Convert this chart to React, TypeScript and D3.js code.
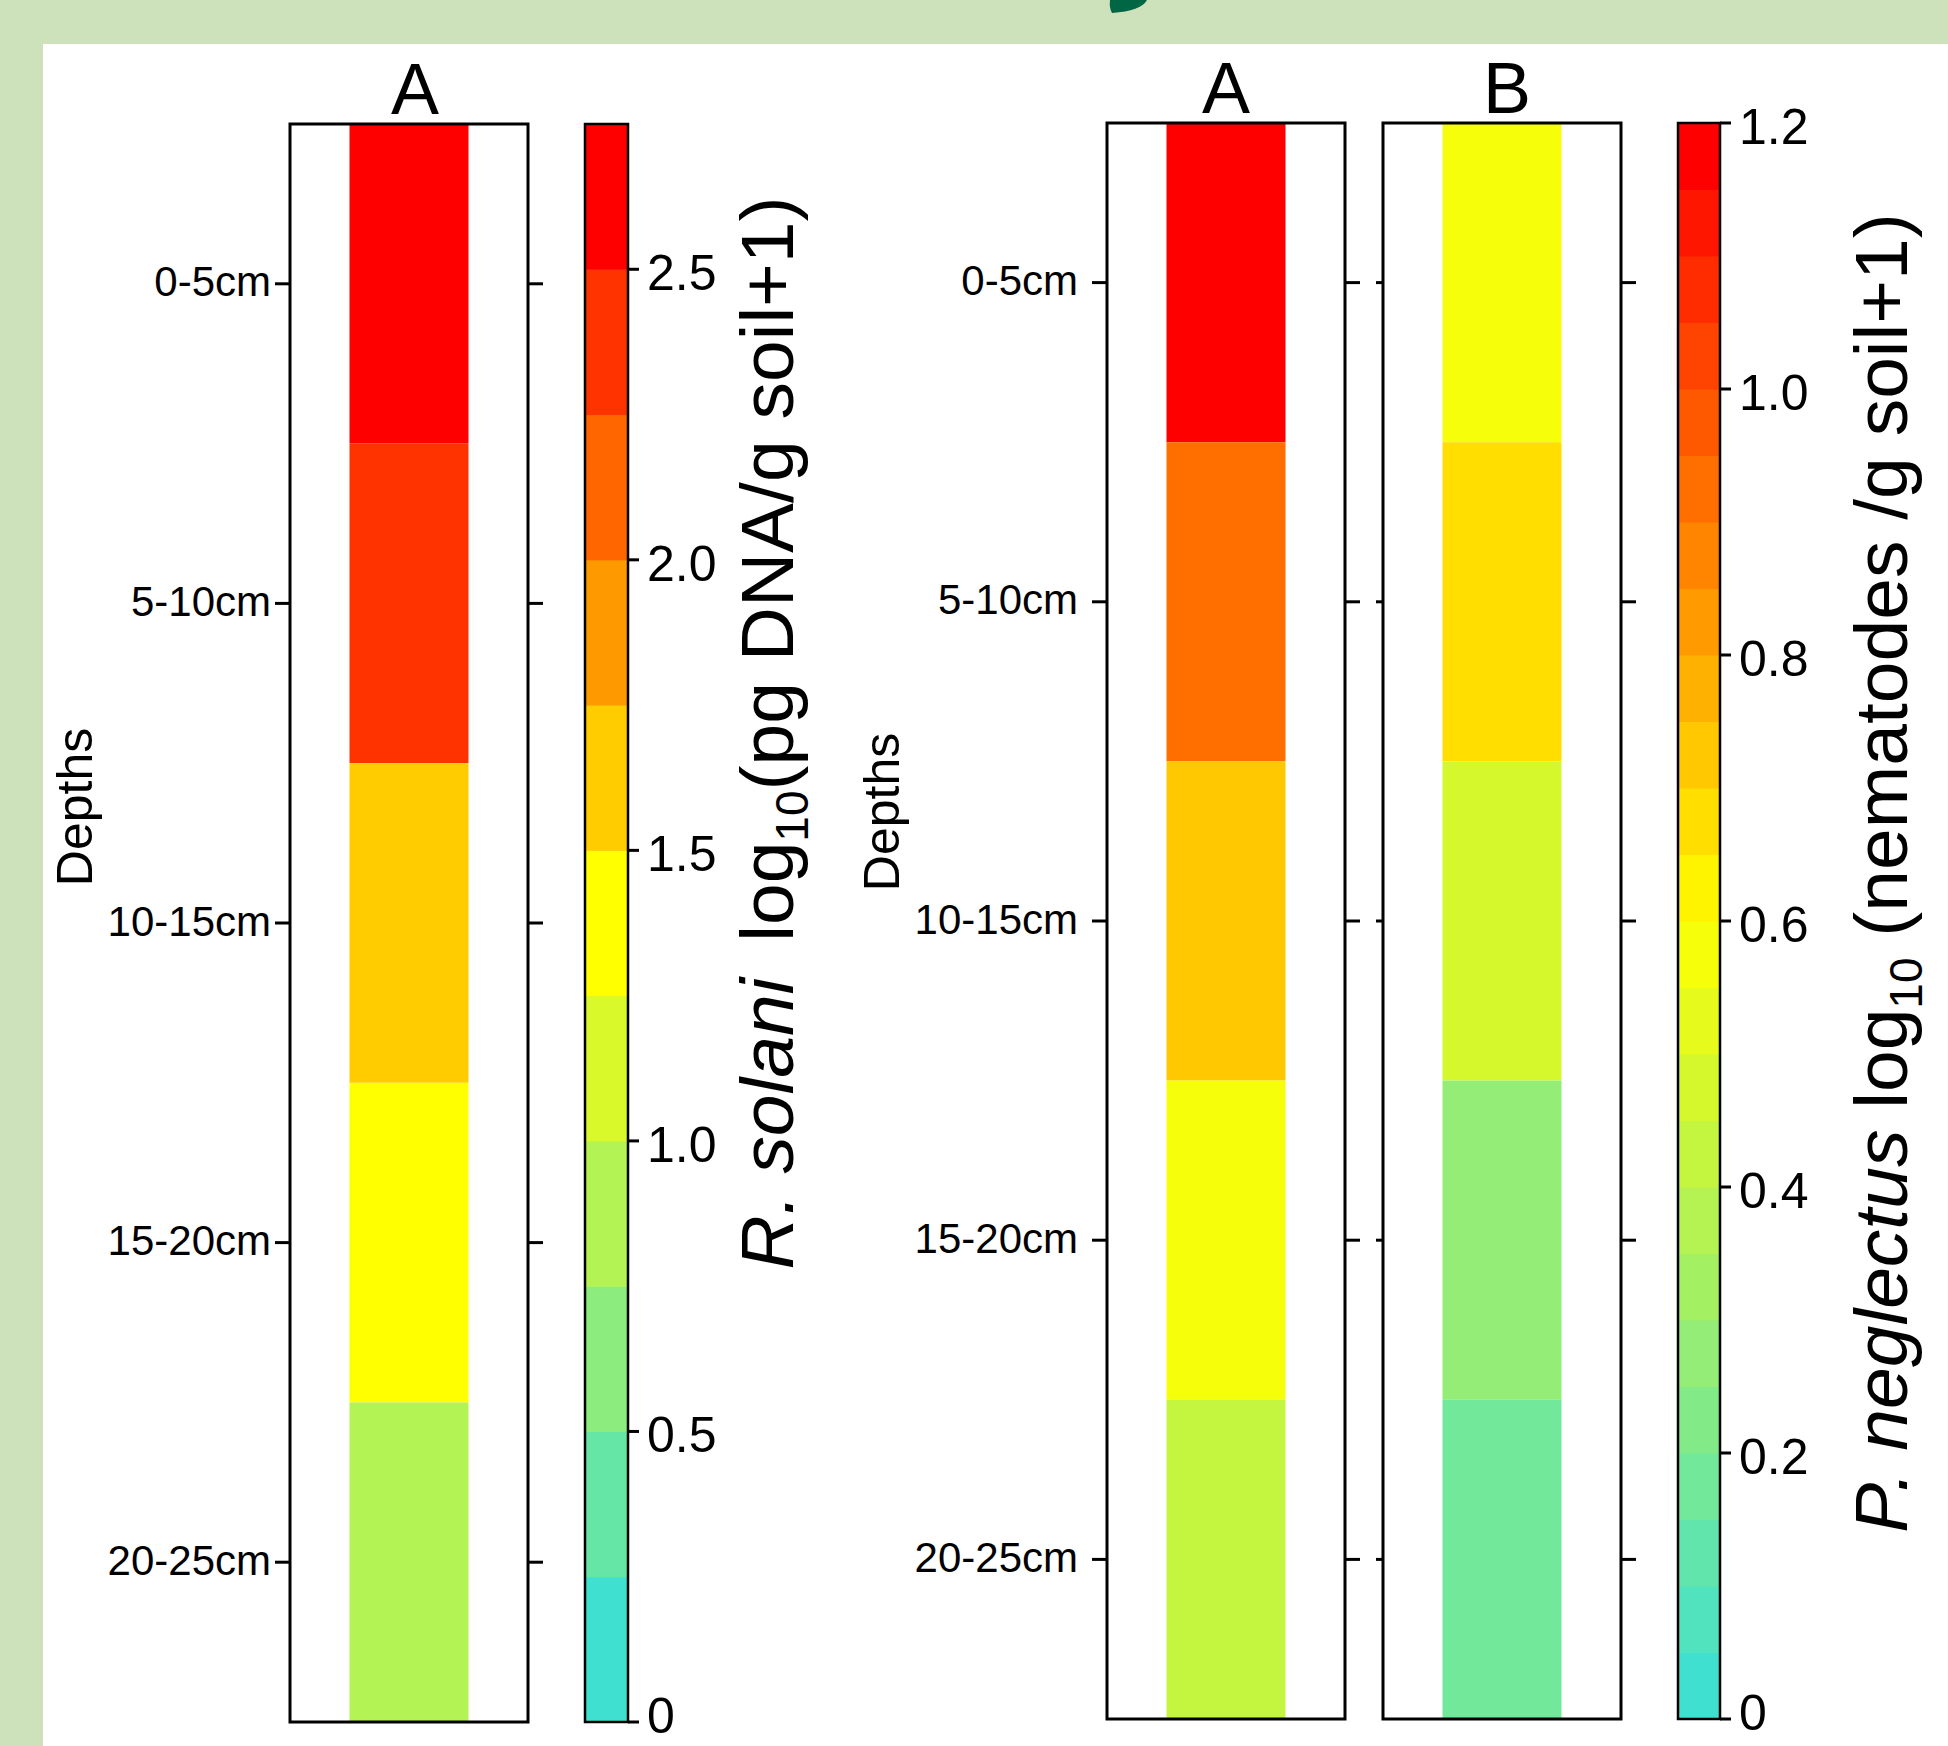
import React from 'react';
import * as d3 from 'd3';

// depth classes (rows)
const depths = ['0-5cm', '5-10cm', '10-15cm', '15-20cm', '20-25cm'];

// R. solani, site A, log10(pg DNA/g soil+1)
const rsolaniA = [2.62, 2.38, 1.63, 1.38, 0.88];

// P. neglectus, sites A and B, log10(nematodes/g soil+1)
const pnegA = [1.18, 0.93, 0.73, 0.58, 0.43];
const pnegB = [0.58, 0.68, 0.48, 0.28, 0.18];

// colour key levels / ticks
const rsolaniMax = 2.75;
const rsolaniStep = 0.25;
const rsolaniTicks = [0, 0.5, 1.0, 1.5, 2.0, 2.5];
const pnegMax = 1.2;
const pnegStep = 0.05;
const pnegTicks = [0, 0.2, 0.4, 0.6, 0.8, 1.0, 1.2];

const paletteStops = ['#40E0D0', '#FFFF00', '#FF0000'];
const FONT = '"Liberation Sans", Arial, sans-serif';

// colorRampPalette-like: n colours evenly along turquoise -> yellow -> red
function makePalette(n: number) {
  const interp = d3.piecewise(d3.interpolateRgb, paletteStops);
  return d3.range(n).map((i) => {
    const c = d3.rgb(interp(n === 1 ? 0 : i / (n - 1)));
    return d3.rgb(Math.round(c.r), Math.round(c.g), Math.round(c.b)).formatHex();
  });
}

function binColor(v: number, step: number, pal: string[]) {
  const i = Math.max(0, Math.min(pal.length - 1, Math.floor(v / step)));
  return pal[i];
}

const fmt = (v: number) => (v === 0 ? '0' : d3.format('.1f')(v));

// one depth column panel
function Panel({ x0, x1, y0, y1, values, step, pal, title, titleDx, leftLabels, labelGap, leftTick, rightTick }: any) {
  const y = d3.scaleBand().domain(depths).range([y0, y1]).padding(0);
  const x = d3.scaleLinear().domain([0, 4]).range([x0, x1]);
  return (
    <g>
      {depths.map((d, i) => (
        <rect
          key={d}
          x={x(1)}
          y={y(d)}
          width={x(3) - x(1)}
          height={y.bandwidth()}
          fill={binColor(values[i], step, pal)}
        />
      ))}
      <rect x={x0} y={y0} width={x1 - x0} height={y1 - y0} fill="none" stroke="#000" strokeWidth={3} />
      {depths.map((d) => {
        const ty = (y(d) as number) + y.bandwidth() / 2;
        return (
          <g key={'t' + d}>
            <line x1={x0 - leftTick} x2={x0} y1={ty} y2={ty} stroke="#000" strokeWidth={3} />
            <line x1={x1} x2={x1 + rightTick} y1={ty} y2={ty} stroke="#000" strokeWidth={3} />
            {leftLabels && (
              <text x={x0 - labelGap} y={ty - 2} textAnchor="end" dominantBaseline="central" fontSize={42} fontFamily={FONT}>
                {d}
              </text>
            )}
          </g>
        );
      })}
      <text x={(x0 + x1) / 2 + titleDx} y={y0 - 10} textAnchor="middle" fontSize={72} fontFamily={FONT}>
        {title}
      </text>
    </g>
  );
}

function ColorKey({ x0, x1, y0, y1, max, step, ticks, pal }: any) {
  const y = d3.scaleLinear().domain([0, max]).range([y1, y0]);
  const levels = d3.range(pal.length);
  return (
    <g>
      {levels.map((i) => (
        <rect
          key={i}
          x={x0}
          y={y((i + 1) * step)}
          width={x1 - x0}
          height={y(i * step) - y((i + 1) * step) + 0.5}
          fill={pal[i]}
        />
      ))}
      <rect x={x0} y={y0} width={x1 - x0} height={y1 - y0} fill="none" stroke="#000" strokeWidth={2.5} />
      {ticks.map((t: number) => (
        <g key={t}>
          <line x1={x1} x2={x1 + 11} y1={y(t)} y2={y(t)} stroke="#000" strokeWidth={3} />
          <text x={x1 + 19} y={Math.min(y(t) + 4, y1 - 6)} dominantBaseline="central" fontSize={50} fontFamily={FONT}>
            {fmt(t)}
          </text>
        </g>
      ))}
    </g>
  );
}

export default function App() {
  const palR = makePalette(Math.round(rsolaniMax / rsolaniStep));
  const palP = makePalette(Math.round(pnegMax / pnegStep));

  return (
    <div style={{ position: 'absolute', left: 0, top: 0 }}>
      <svg width={1948} height={1746} style={{ display: 'block' }}>
        <rect x={0} y={0} width={1948} height={1746} fill="#cde1bb" />
        <rect x={43} y={44} width={1905} height={1702} fill="#ffffff" />
        {/* piece of the poster heading above the figure */}
        <path d="M1110,0 L1147,0 Q1141,11 1112,13 Q1109,8 1110,0 Z" fill="#006644" />

        {/* left: R. solani */}
        <Panel
          x0={290} x1={528} y0={124} y1={1722}
          values={rsolaniA} step={rsolaniStep} pal={palR}
          title="A" titleDx={6} leftLabels labelGap={19} leftTick={15} rightTick={15}
        />
        <text transform="translate(92,807) rotate(-90)" textAnchor="middle" fontSize={50} fontFamily={FONT}>
          Depths
        </text>
        <ColorKey x0={585} x1={628} y0={124} y1={1722} max={rsolaniMax} step={rsolaniStep} ticks={rsolaniTicks} pal={palR} />
        <text transform="translate(793,733) rotate(-90)" textAnchor="middle" fontSize={75} fontFamily={FONT}>
          <tspan fontStyle="italic">R. solani</tspan>
          <tspan dx={36}>log</tspan>
          <tspan fontSize={46} dy={15}>10</tspan>
          <tspan dy={-15}>(pg DNA/g soil+1)</tspan>
        </text>

        {/* right: P. neglectus */}
        <Panel
          x0={1107} x1={1345} y0={123} y1={1719}
          values={pnegA} step={pnegStep} pal={palP}
          title="A" titleDx={0} leftLabels labelGap={29} leftTick={15} rightTick={15}
        />
        <Panel
          x0={1383} x1={1621} y0={123} y1={1719}
          values={pnegB} step={pnegStep} pal={palP}
          title="B" titleDx={5} leftLabels={false} labelGap={0} leftTick={7} rightTick={15}
        />
        <text transform="translate(899,812) rotate(-90)" textAnchor="middle" fontSize={50} fontFamily={FONT}>
          Depths
        </text>
        <ColorKey x0={1678} x1={1720} y0={123} y1={1719} max={pnegMax} step={pnegStep} ticks={pnegTicks} pal={palP} />
        <text transform="translate(1907,873) rotate(-90)" textAnchor="middle" fontSize={75} fontFamily={FONT}>
          <tspan fontStyle="italic">P. neglectus</tspan>
          <tspan> log</tspan>
          <tspan fontSize={46} dy={15}>10</tspan>
          <tspan dy={-15}> (nematodes /g soil+1)</tspan>
        </text>
      </svg>
    </div>
  );
}
